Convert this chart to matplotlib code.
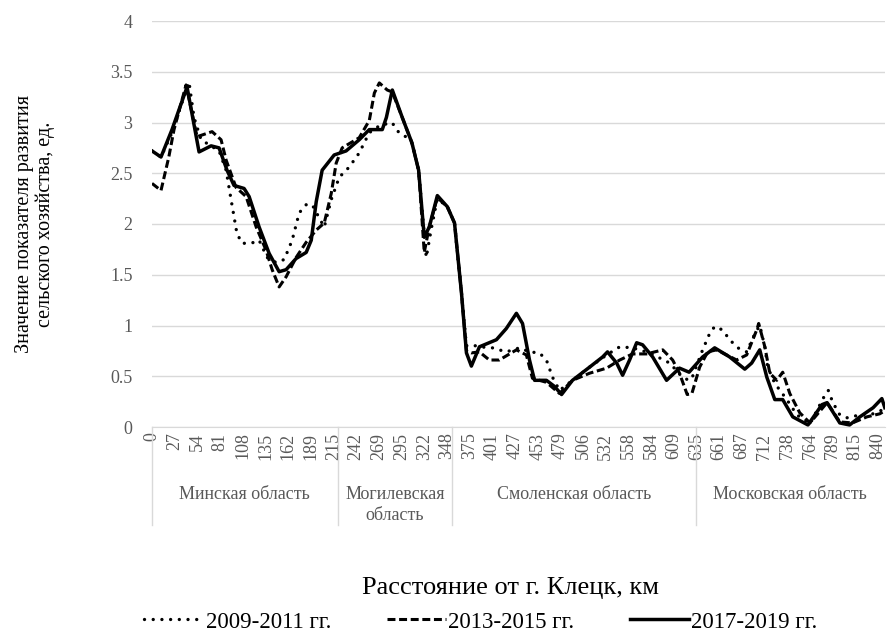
import numpy as np
import matplotlib.pyplot as plt

plt.rcParams['font.family'] = ['Liberation Serif', 'DejaVu Serif']

# подписи оси X (км от Клецка)
tick_km = [0, 27, 54, 81, 108, 135, 162, 189, 215, 242, 269, 295, 322, 348,
           375, 401, 427, 453, 479, 506, 532, 558, 584, 609, 635, 661, 687,
           712, 738, 764, 789, 815, 840]

regions = ['Минская область', 'Могилевская\nобласть', 'Смоленская область',
           'Московская область']
region_bounds = [0, 220, 354.5, 634, 848]

# 2009-2011 гг.
km_0911 = [0, 10.7, 23.8, 44, 50, 58.4, 79.8, 88.2, 94.1, 101, 107, 118, 127.5,
           137, 147.7, 157.3, 166.8, 175.2, 183.5, 190.6, 198.6, 204.4, 212.4,
           221.8, 233.6, 245.6, 257.6, 270, 284, 292, 300, 307.3, 315.3, 324.3,
           330, 337, 348.5, 357, 365.3, 371.2, 377, 386.2, 401, 417, 432.2,
           443.6, 455, 463, 470, 478, 493.4, 513.5, 533, 548, 562.7, 582.2,
           604.5, 618.8, 626.5, 629.7, 642, 650, 655.8, 663.9, 675.3, 682.3,
           692.3, 701.3, 706.7, 712.3, 715.6, 723.7, 737.5, 749, 764, 780.8,
           784.2, 789.3, 797.2, 806, 820, 834.6, 845.5]
val_0911 = [2.72, 2.66, 2.90, 3.40, 3.05, 2.83, 2.72, 2.53, 2.24, 1.91, 1.81,
            1.81, 1.84, 1.67, 1.62, 1.65, 1.84, 2.11, 2.19, 2.19, 2.06, 1.97,
            2.24, 2.46, 2.56, 2.70, 2.90, 2.97, 3.00, 2.90, 2.86, 2.80, 2.53,
            1.67, 1.95, 2.25, 2.17, 2.01, 1.32, 0.80, 0.81, 0.79, 0.78, 0.74,
            0.78, 0.74, 0.73, 0.66, 0.49, 0.36, 0.46, 0.59, 0.71, 0.79, 0.78,
            0.73, 0.63, 0.49, 0.46, 0.48, 0.76, 0.92, 0.99, 0.96, 0.84, 0.78,
            0.74, 0.92, 1.00, 0.79, 0.59, 0.43, 0.27, 0.12, 0.03, 0.32, 0.36,
            0.24, 0.12, 0.09, 0.12, 0.13, 0.17]

# 2013-2015 гг.
km_1315 = [0, 10.7, 20, 26.2, 40.5, 53.6, 71.5, 82.2, 88.2, 100, 112, 124,
           135.8, 143, 151.3, 159.6, 171.5, 183.5, 195.2, 204.4, 212.4, 218.2,
           225.3, 245.6, 257.6, 263.6, 269.5, 278.6, 284.4, 295.8, 307.3,
           315.3, 322, 327.7, 337, 348.5, 357, 365.3, 371.2, 377, 386.2,
           397.6, 409, 428.6, 440, 447, 463, 478, 493.4, 513.5, 533, 548,
           562.7, 578.8, 596.8, 607.7, 615.5, 624.3, 629.7, 638.6, 647.8, 658,
           681, 692.3, 703.5, 705.5, 712.3, 718, 726, 732.8, 740.9, 752.3, 764,
           782.9, 797.2, 811.7, 827.8, 842, 847.8]
val_1315 = [2.40, 2.33, 2.66, 2.93, 3.37, 2.86, 2.91, 2.83, 2.63, 2.36, 2.27,
            1.97, 1.74, 1.55, 1.38, 1.48, 1.67, 1.82, 1.94, 2.01, 2.30, 2.60,
            2.75, 2.85, 3.02, 3.29, 3.39, 3.32, 3.30, 3.05, 2.80, 2.53, 1.72,
            1.97, 2.26, 2.17, 2.01, 1.32, 0.75, 0.73, 0.74, 0.66, 0.66, 0.76,
            0.71, 0.48, 0.44, 0.33, 0.46, 0.53, 0.58, 0.66, 0.72, 0.72, 0.76,
            0.66, 0.53, 0.32, 0.33, 0.59, 0.74, 0.76, 0.66, 0.71, 0.96, 1.02,
            0.79, 0.53, 0.46, 0.54, 0.33, 0.14, 0.04, 0.24, 0.05, 0.04, 0.10,
            0.13, 0.16]

# 2017-2019 гг.
km_1719 = [0, 10.7, 23.8, 41.7, 56, 70.3, 79.8, 89.3, 97.6, 109.6, 115.6,
           127.5, 139.4, 151.3, 159.6, 171.5, 183.5, 189.5, 195.2, 202, 215.8,
           230, 245.6, 257.6, 272.9, 277.6, 284.4, 295.8, 307.3, 315.3, 322,
           327.7, 337, 348.5, 357, 365.3, 371.2, 377, 386.2, 405.7, 417, 428.6,
           435.6, 443.6, 449.4, 463, 472.2, 480.4, 493.4, 513.5, 528.4, 534,
           544.5, 551.3, 559.3, 567.4, 574.2, 585.7, 601, 615.5, 626.5, 642,
           655.8, 673, 690.2, 697.8, 706.7, 714.6, 723.7, 732.8, 744.3, 761.7,
           777.2, 782.9, 797.2, 808.4, 820, 834.6, 844.4, 847.8]
val_1719 = [2.72, 2.66, 2.93, 3.35, 2.71, 2.77, 2.75, 2.53, 2.38, 2.35, 2.27,
            1.97, 1.71, 1.53, 1.55, 1.66, 1.72, 1.84, 2.22, 2.53, 2.68, 2.72,
            2.83, 2.93, 2.93, 3.05, 3.32, 3.05, 2.80, 2.53, 1.87, 1.97, 2.28,
            2.17, 2.01, 1.32, 0.73, 0.60, 0.79, 0.86, 0.97, 1.12, 1.02, 0.66,
            0.46, 0.46, 0.40, 0.32, 0.46, 0.59, 0.69, 0.74, 0.63, 0.51, 0.66,
            0.83, 0.81, 0.69, 0.46, 0.58, 0.54, 0.69, 0.78, 0.69, 0.57, 0.63,
            0.76, 0.49, 0.27, 0.27, 0.10, 0.02, 0.22, 0.24, 0.04, 0.02, 0.10,
            0.19, 0.28, 0.19]

grey = '#d9d9d9'
txt_grey = '#595959'

# шкала: подписи стоят через равные промежутки, как на категориальной оси
ext_km = np.r_[tick_km[0] - 27, tick_km, tick_km[-1] + 26]
ext_pos = np.arange(len(ext_km)) - 1.0


def fwd(x):
    return np.interp(x, ext_km, ext_pos)


def inv(p):
    return np.interp(p, ext_pos, ext_km)


fig = plt.figure(figsize=(8.89, 6.37), dpi=100)
ax = fig.add_axes([152 / 889, 1 - 427 / 637, 733 / 889, 406 / 637])
ax.set_xscale('function', functions=(fwd, inv))

lw = 2.2
ax.plot(km_0911, val_0911, color='black', lw=lw + 0.2, linestyle=(0, (0.01, 2.6)),
        dash_capstyle='round', solid_joinstyle='round', label='2009-2011 гг.')
ax.plot(km_1315, val_1315, color='black', lw=lw, linestyle=(0, (2.6, 1.2)),
        solid_joinstyle='round', label='2013-2015 гг.')
ax.plot(km_1719, val_1719, color='black', lw=lw + 0.3,
        solid_joinstyle='round', label='2017-2019 гг.')

ax.set_xlim(0, 848)
ax.set_ylim(0, 4)
ax.set_yticks(np.arange(0, 4.01, 0.5))
ax.set_yticklabels([f'{v:g}' for v in np.arange(0, 4.01, 0.5)])
ax.grid(axis='y', color=grey, lw=1)
ax.set_axisbelow(True)
ax.tick_params(axis='y', length=0, pad=14, labelsize=13, labelcolor=txt_grey)

ax.set_xticks(tick_km)
ax.set_xticklabels([str(k) for k in tick_km], rotation=90, va='top')
ax.tick_params(axis='x', length=0, pad=4, labelsize=13, labelcolor=txt_grey)
ax.xaxis.set_minor_locator(plt.NullLocator())

for s in ['top', 'right', 'left']:
    ax.spines[s].set_visible(False)
ax.spines['bottom'].set_color(grey)

# второй уровень оси: области
xt = ax.get_xaxis_transform()
for b in region_bounds[:-1]:
    ax.plot([b, b], [0, -0.241], color=grey, lw=1, transform=xt, clip_on=False)
for name, a, b in zip(regions, region_bounds[:-1], region_bounds[1:]):
    mid = inv((fwd(a) + fwd(b)) / 2)
    ax.text(mid, -0.145, name, transform=xt, ha='center', va='top',
            fontsize=13, color=txt_grey, linespacing=1.3)

fig.text(511 / 889, 1 - 588 / 637, 'Расстояние от г. Клецк, км',
         ha='center', va='center', fontsize=19)
fig.text(35 / 889, 1 - 224 / 637,
         'Значение показателя развития\nсельского хозяйства, ед.',
         ha='center', va='center', rotation=90, fontsize=14.5, linespacing=1.1)

fig.legend(loc='center', bbox_to_anchor=(481 / 889, 1 - 622 / 637), ncol=3,
           frameon=False, fontsize=16.5, handlelength=2.6, handletextpad=0.1,
           columnspacing=2.4)

fig.savefig('out.png', dpi=100)
